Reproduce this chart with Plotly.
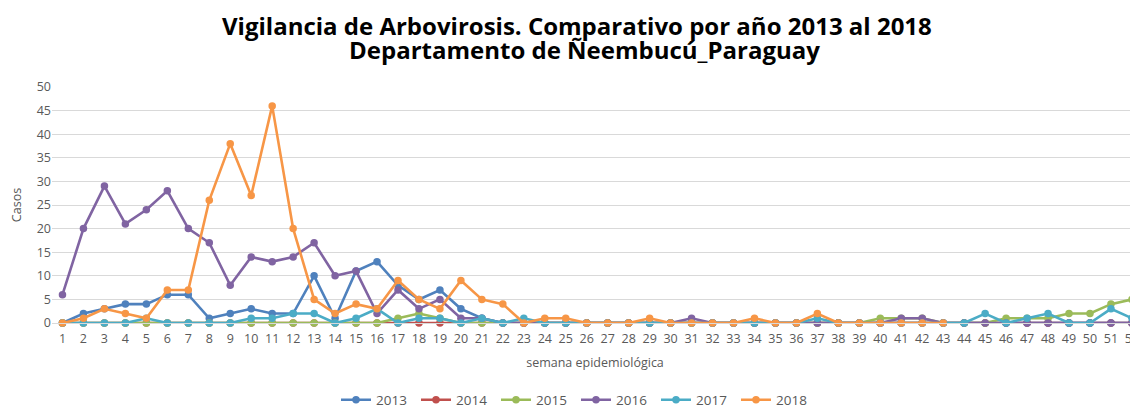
import plotly.graph_objects as go

weeks = list(range(1, 53))

y2013 = [0, 2, 3, 4, 4, 6, 6, 1, 2, 3, 2, 2, 10, 1, 11, 13, 8, 5, 7, 3, 1, 0, 0, 0, 0, 0,
         0, 0, 0, 0, 0, 0, 0, 0, 0, 0, 0, 0, 0, 0, 0, 0, 0, 0, 0, 0, 0, 0, 0, 0, 0, 0]
y2014 = [0] * 52
y2015 = [0, 0, 0, 0, 0, 0, 0, 0, 0, 0, 0, 0, 0, 0, 0, 0, 1, 2, 1, 0, 0, 0, 0, 0, 0, 0,
         0, 0, 0, 0, 0, 0, 0, 0, 0, 0, 0, 0, 0, 1, 1, 1, 0, 0, 0, 1, 1, 1, 2, 2, 4, 5]
y2016 = [6, 20, 29, 21, 24, 28, 20, 17, 8, 14, 13, 14, 17, 10, 11, 2, 7, 3, 5, 1, 1, 0, 0, 0, 0, 0,
         0, 0, 0, 0, 1, 0, 0, 0, 0, 0, 0, 0, 0, 0, 1, 1, 0, 0, 0, 0, 0, 0, 0, 0, 0, 0]
y2017 = [0, 0, 0, 0, 1, 0, 0, 0, 0, 1, 1, 2, 2, 0, 1, 3, 0, 1, 1, 0, 1, 0, 1, 0, 0, 0,
         0, 0, 0, 0, 0, 0, 0, 0, 0, 0, 1, 0, 0, 0, 0, 0, 0, 0, 2, 0, 1, 2, 0, 0, 3, 1]
y2018 = [0, 1, 3, 2, 1, 7, 7, 26, 38, 27, 46, 20, 5, 2, 4, 3, 9, 5, 3, 9, 5, 4, 0, 1, 1, 0,
         0, 0, 1, 0, 0, 0, 0, 1, 0, 0, 2, 0, 0, 0, 0, 0, 0]

title_lines = ["Vigilancia de Arbovirosis. Comparativo por año 2013 al 2018",
               "Departamento de Ñeembucú_Paraguay"]

series = [
    ("2013", y2013, "#4F81BD"),
    ("2014", y2014, "#C0504D"),
    ("2015", y2015, "#9BBB59"),
    ("2016", y2016, "#8064A2"),
    ("2017", y2017, "#4BACC6"),
    ("2018", y2018, "#F79646"),
]

fig = go.Figure()
for name, vals, color in series:
    fig.add_trace(go.Scatter(
        x=weeks[:len(vals)], y=vals, name=name, mode="lines+markers",
        line=dict(color=color, width=2.6),
        marker=dict(color=color, size=7.5),
        cliponaxis=False,
    ))

tick_font = dict(family="Open Sans, Noto Sans, sans-serif", size=12.5, color="#595959")
title_font = dict(family="Open Sans, Noto Sans, sans-serif", size=24, color="#000000", weight="bold")

fig.add_annotation(text=title_lines[0], x=0.4834, y=1.2627, xref="paper", yref="paper",
                   xanchor="center", yanchor="middle", showarrow=False, font=title_font)
fig.add_annotation(text=title_lines[1], x=0.4899, y=1.158, xref="paper", yref="paper",
                   xanchor="center", yanchor="middle", showarrow=False, font=title_font)

fig.update_layout(
    width=1130, height=400,
    margin=dict(l=44, r=0, t=79, b=85),
    paper_bgcolor="white", plot_bgcolor="white",
    xaxis=dict(
        range=[0.5, 52.29], tickmode="linear", tick0=1, dtick=1,
        showgrid=False, showline=True, linecolor="#d9d9d9", linewidth=1,
        zeroline=False, ticks="", tickfont=tick_font, ticklabelstandoff=4,
        ticklabeloverflow="allow",
        automargin=False,
        title=dict(text="semana epidemiológica", font=tick_font, standoff=12),
    ),
    yaxis=dict(
        range=[0, 50], tickmode="linear", tick0=0, dtick=5,
        showgrid=True, gridcolor="#d9d9d9", gridwidth=1,
        zeroline=False, showline=False, ticks="", tickfont=tick_font,
        automargin=False,
        title=dict(text="Casos", font=tick_font, standoff=14),
    ),
    legend=dict(
        orientation="h", x=0.4825, xanchor="center",
        y=0.02, yref="container", yanchor="middle",
        font=dict(family="Open Sans, Noto Sans, sans-serif", size=13.5, color="#595959"),
        itemwidth=30, traceorder="normal", entrywidth=35,
    ),
    showlegend=True,
)

fig.write_html("out.html")
